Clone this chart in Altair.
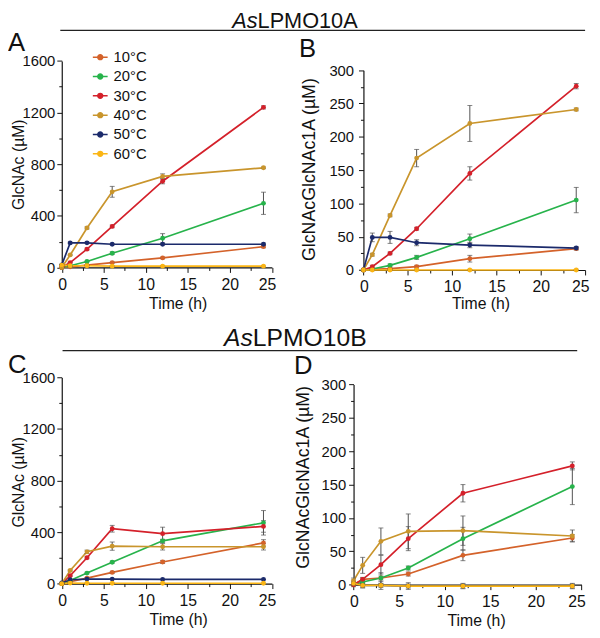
import altair as alt
import pandas as pd

FONT = "Liberation Sans, Arial, sans-serif"

times = [0, 1, 3, 6, 12, 24]
temps = ["10°C", "20°C", "30°C", "40°C", "50°C", "60°C"]
colors = ["#d4622a", "#27b34b", "#d4202a", "#c9952c", "#1b2a6b", "#fbb514"]

# Panel A: AsLPMO10A, GlcNAc (µM)
a_mean = [
    [0, 5, 18, 38, 74, 161],
    [0, 13, 46, 110, 226, 497],
    [0, 38, 142, 318, 668, 1240],
    [0, 97, 306, 586, 705, 772],
    [20, 190, 191, 180, 180, 180],
    [18, 14, 13, 10, 10, 10],
]
a_sd = [
    [0, 2, 3, 4, 6, 8],
    [0, 3, 4, 10, 36, 86],
    [0, 4, 8, 10, 20, 12],
    [0, 5, 8, 42, 20, 6],
    [0, 6, 6, 5, 5, 8],
    [0, 2, 2, 2, 2, 2],
]
# Panel B: AsLPMO10A, GlcNAcGlcNAc1A (µM)
b_mean = [
    [0, 1, 2, 5, 17, 32],
    [0, 1.5, 7, 19, 47, 105],
    [0, 5, 25, 62, 145, 276],
    [0, 23, 82, 168, 220, 241],
    [0, 49, 49, 41, 37.5, 33],
    [0, 0, 0, 0, 0, 0],
]
b_sd = [
    [0, 1, 1, 2, 5, 2],
    [0, 1, 2, 3, 7, 19],
    [0, 2, 2, 2, 10, 4],
    [0, 2, 2, 13, 27, 2],
    [0, 6.5, 9, 4.5, 4, 2],
    [0, 1, 1, 1, 1, 1],
]
# Panel C: AsLPMO10B, GlcNAc (µM)
c_mean = [
    [0, 15, 43, 87, 168, 316],
    [0, 25, 82, 166, 332, 472],
    [0, 61, 201, 426, 388, 444],
    [0, 102, 247, 291, 286, 286],
    [5, 30, 35, 35, 33, 33],
    [0, 4, 3, 3, 3, 3],
]
c_sd = [
    [0, 3, 5, 8, 12, 25],
    [0, 4, 6, 8, 12, 95],
    [0, 5, 8, 26, 50, 45],
    [0, 6, 13, 32, 25, 25],
    [0, 2, 2, 2, 2, 2],
    [0, 1, 1, 1, 1, 1],
]
# Panel D: AsLPMO10B, GlcNAcGlcNAc1A (µM)
d_mean = [
    [0, 8, 10, 16, 44, 70],
    [0, 4, 10, 25, 69, 147],
    [0, 8, 30, 69, 137, 178],
    [6, 29, 65, 80, 81, 73],
    [2, -1, -1, -2, -2, -2],
    [2, -1, -1, -2, -2, -2],
]
d_sd = [
    [0, 2, 3, 3, 8, 5],
    [0, 2, 8, 3, 17, 27],
    [0, 3, 14, 18, 13, 6],
    [4, 12, 20, 26, 22, 9],
    [3, 3, 3, 3, 3, 3],
    [5, 4, 6, 5, 4, 4],
]

header_italic = ["As", "As"]
header_rest = ["LPMO10A", "LPMO10B"]
panel_letters = ["A", "B", "C", "D"]
y_titles = ["GlcNAc (µM)", "GlcNAcGlcNAc1A (µM)"]
x_title = "Time (h)"


def long_df(means, sds):
    rows = []
    for temp, ms, ss in zip(temps, means, sds):
        for t, m, s in zip(times, ms, ss):
            rows.append({"time": t, "series": temp, "value": m,
                         "lo": m - s, "hi": m + s})
    return pd.DataFrame(rows)


color_scale = alt.Scale(domain=temps, range=colors)
legend = alt.Legend(
    orient="none", legendX=85, legendY=37, title=None,
    symbolType="M-1,0H1M0.33,0A0.33,0.33,0,1,1,-0.33,0A0.33,0.33,0,1,1,0.33,0",
    symbolSize=225, symbolStrokeWidth=1.5, symbolOpacity=1,
    labelFont=FONT, labelFontSize=15, labelColor="#111", labelOffset=5,
    rowPadding=2.6, padding=0,
)


def panel(df, xr, yr, ymax, ymajor, yminor, x_off, y_off, ytitle, ytitle_size,
          ytitle_x, ytitle_y, xtitle_x, xtitle_y, ylab_pad):
    x_major = [0, 5, 10, 15, 20, 25]
    x_minor = [2.5, 7.5, 12.5, 17.5, 22.5]
    y_major = list(range(0, ymax + 1, ymajor))
    y_minor = [v for v in range(0, ymax + 1, yminor) if v % ymajor]
    xscale = alt.Scale(domain=[0, 25], range=xr, nice=False, zero=False)
    yscale = alt.Scale(domain=[0, ymax], range=yr, nice=False, zero=False)
    xaxis = alt.Axis(
        orient="bottom", offset=x_off, values=x_major, format="d",
        tickSize=5, labelPadding=4, labelOverlap=False,
        labelFlush=True, labelFlushOffset=4, labelFontSize=16,
        title=x_title, titleX=xtitle_x, titleY=xtitle_y,
        titleBaseline="alphabetic", titleAlign="center", titleFontSize=16,
    )
    yaxis = alt.Axis(
        orient="left", offset=y_off, values=y_major, format="d",
        tickSize=5, labelPadding=ylab_pad, labelOverlap=False, labelFlush=False,
        title=ytitle, titleX=ytitle_x, titleY=ytitle_y, titleAngle=270,
        titleBaseline="bottom", titleAlign="center", titleFontSize=ytitle_size,
    )
    xaxis_minor = alt.Axis(orient="bottom", offset=x_off, values=x_minor,
                           tickSize=3, labels=False, domain=False, title=None)
    yaxis_minor = alt.Axis(orient="left", offset=y_off, values=y_minor,
                           tickSize=3, labels=False, domain=False, title=None)
    base = alt.Chart(df)
    lines = base.mark_line(strokeWidth=1.7).encode(
        x=alt.X("time:Q", scale=xscale, axis=xaxis),
        y=alt.Y("value:Q", scale=yscale, axis=yaxis),
        color=alt.Color("series:N", scale=color_scale, legend=legend),
    )
    errs = base.mark_errorbar(color="#505050", thickness=1,
                              ticks={"size": 5, "color": "#505050"}).encode(
        x=alt.X("time:Q", scale=xscale, axis=None),
        y=alt.Y("lo:Q", scale=yscale, axis=None),
        y2=alt.Y2("hi:Q"),
    )
    points = base.mark_circle(size=24, opacity=1).encode(
        x=alt.X("time:Q", scale=xscale, axis=xaxis_minor),
        y=alt.Y("value:Q", scale=yscale, axis=yaxis_minor),
        color=alt.Color("series:N", scale=color_scale, legend=legend),
    )
    return alt.layer(lines, errs, points).resolve_axis(x="independent", y="independent")


pA = panel(long_df(a_mean, a_sd), [54.5, 267.5], [258.7, 49.3], 1600, 400, 200,
           -371.3, -54.5, y_titles[0], 16, -35.5, 154, 172, 41.3, 2)
pB = panel(long_df(b_mean, b_sd), [360.3, 585.0], [261.3, 58.7], 300, 50, 25,
           -368.7, -360.3, y_titles[1], 18, -45.3, 159, 479, 38.7, 5)
pC = panel(long_df(c_mean, c_sd), [54.5, 267.5], [579.2, 370.2], 1600, 400, 200,
           -50.8, -54.5, y_titles[0], 16, -35.5, 476, 172.5, 41, 2)
pD = panel(long_df(d_mean, d_sd), [350.3, 581.3], [580.3, 377.3], 300, 50, 25,
           -49.7, -350.3, y_titles[1], 18, -41.3, 471, 474.5, 41.7, 3)

one = alt.Data(values=[{}])


def text(txt, x, y, size, align="left", style="normal"):
    return alt.Chart(one).mark_text(
        text=txt, align=align, baseline="alphabetic", fontSize=size,
        font=FONT, fontStyle=style, color="#111",
    ).encode(x=alt.value(x), y=alt.value(y))


def hrule(x1, x2, y):
    return alt.Chart(one).mark_rule(color="#222", strokeWidth=1.3).encode(
        x=alt.value(x1), x2=alt.value(x2), y=alt.value(y))


decor = [
    text(header_italic[0], 253, 16, 22, align="right", style="italic"),
    text(header_rest[0], 253, 16, 22),
    hrule(53, 585, 18.3),
    text(header_italic[1], 248.2, 338.7, 25, align="right", style="italic"),
    text(header_rest[1], 248.2, 338.7, 25),
    hrule(55.3, 577, 343),
    text(panel_letters[0], 0, 39, 26),
    text(panel_letters[1], 295, 45, 26),
    text(panel_letters[2], 0, 366, 26),
    text(panel_letters[3], 290, 367, 26),
]

chart = alt.layer(pA, pB, pC, pD, *decor).resolve_scale(
    x="independent", y="independent"
).properties(
    width=592, height=630, padding=0,
    autosize=alt.AutoSizeParams(type="none"),
).configure_view(stroke=None).configure_axis(
    labelFont=FONT, titleFont=FONT, labelFontSize=15,
    labelColor="#111", titleColor="#111", domainColor="#111", tickColor="#111",
    domainWidth=1.2, tickWidth=1, grid=False, titleFontWeight="normal",
)

chart.save("out.html", embed_options={"renderer": "svg", "actions": False})
